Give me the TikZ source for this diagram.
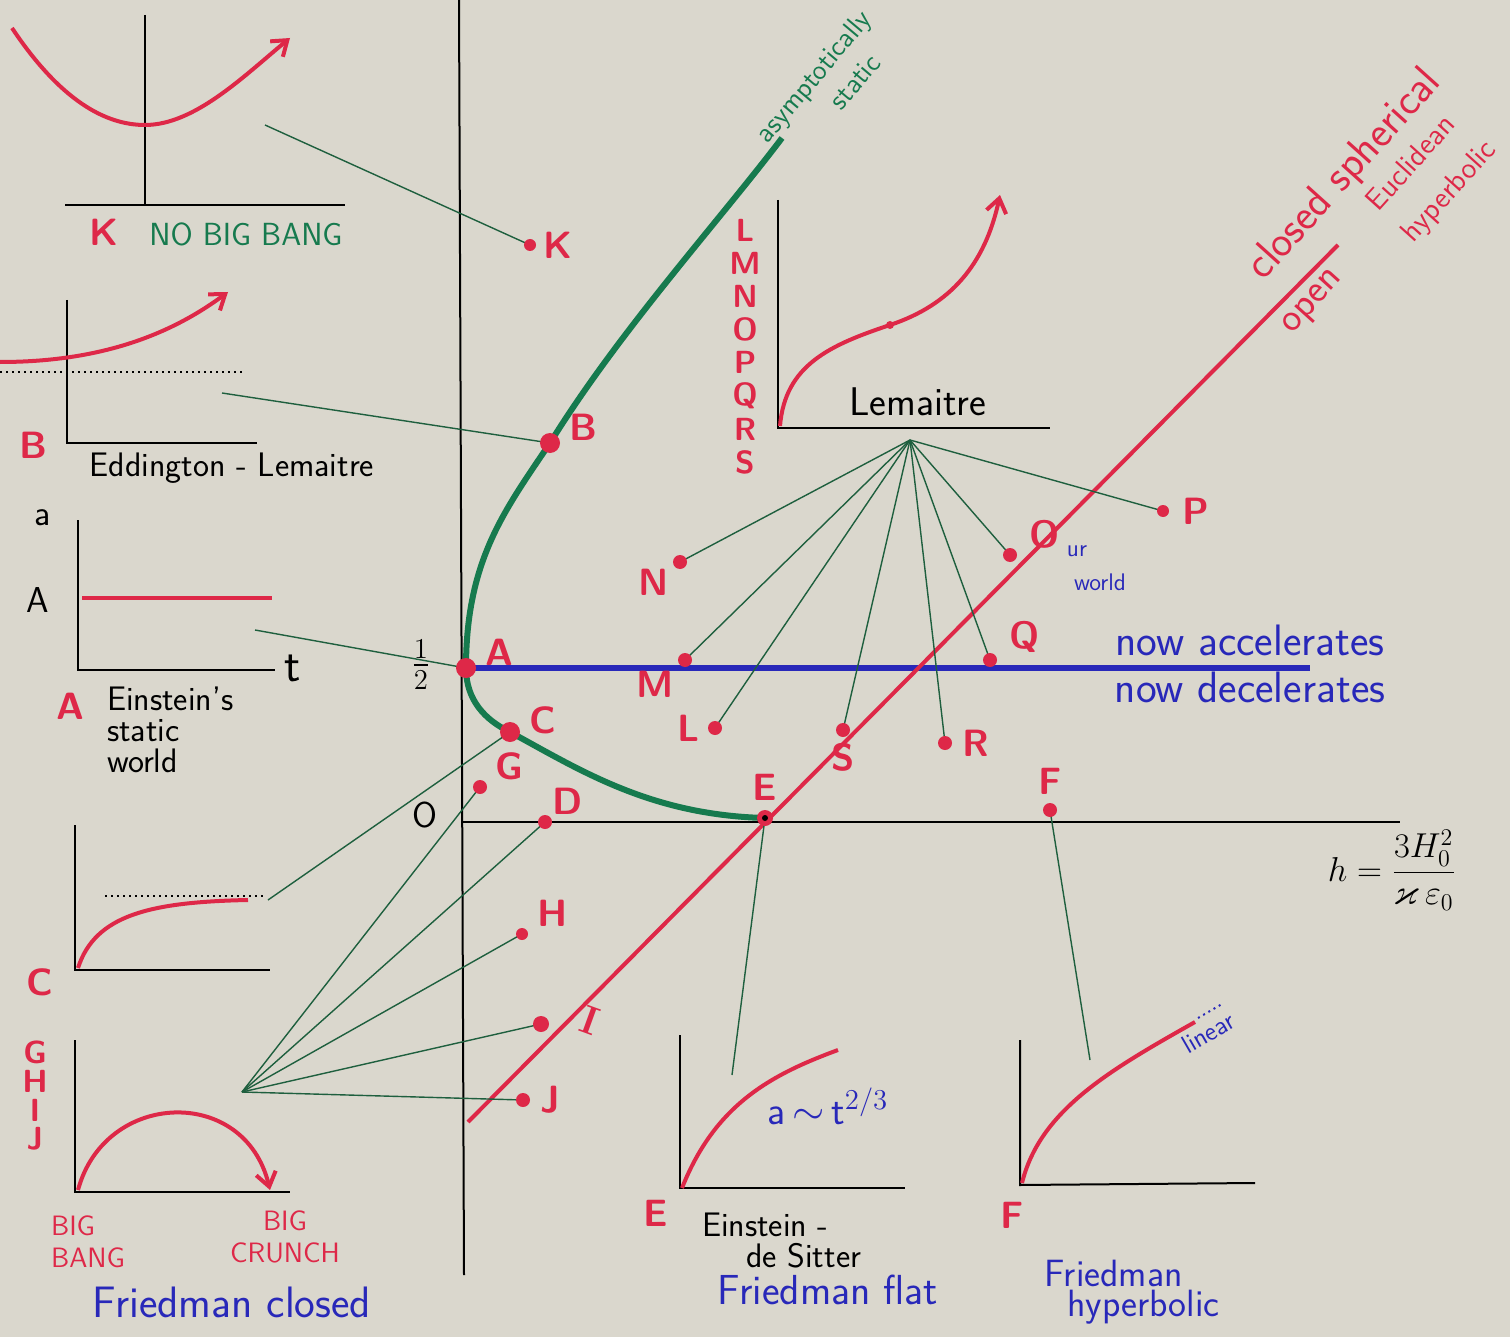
\documentclass[tikz,border=0pt]{standalone}
\usepackage{amsmath,amssymb}
\usetikzlibrary{arrows.meta,positioning}
\definecolor{paper}{RGB}{218,215,205}
\definecolor{penred}{RGB}{222,40,72}
\definecolor{pengreen}{RGB}{22,122,78}
\definecolor{penblue}{RGB}{40,40,185}
\definecolor{linkgreen}{RGB}{30,95,62}
\tikzset{
  axis/.style={black, line width=1pt},
  curve/.style={penred, line width=2pt},
  barb/.style={-{Straight Barb[length=7pt,width=10pt]}},
  link/.style={linkgreen, line width=0.7pt},
  ptlabel/.style={text=penred, font=\sffamily\bfseries\fontsize{19}{20}\selectfont},
  stacklabel/.style={text=penred, font=\sffamily\bfseries\fontsize{16}{17}\selectfont},
  slanted/.style={text=penred, font=\sffamily\fontsize{#1}{#1}\selectfont, rotate=48},
  notes/.style={font=\sffamily\fontsize{17}{15.5}\selectfont},
  bluenote/.style={text=penblue, font=\sffamily\fontsize{22}{24}\selectfont},
  greennote/.style={text=pengreen, font=\sffamily\fontsize{16}{19}\selectfont}
}
\begin{document}
\begin{tikzpicture}[x=0.5pt,y=-0.5pt]
\useasboundingbox (0,0) rectangle (1510,1337);
\fill[paper] (0,0) rectangle (1510,1337);

% points of the diagram
\coordinate (K) at (530,245);
\coordinate (B) at (550,443);
\coordinate (A) at (466,668);
\coordinate (C) at (510,732);
\coordinate (G) at (480,787);
\coordinate (D) at (545,822);
\coordinate (E) at (765,818);
\coordinate (F) at (1050,810);
\coordinate (H) at (522,934);
\coordinate (I) at (541,1024);
\coordinate (J) at (523,1100);
\coordinate (M) at (685,660);
\coordinate (L) at (715,728);
\coordinate (N) at (680,562);
\coordinate (S) at (843,730);
\coordinate (R) at (945,743);
\coordinate (Q) at (990,660);
\coordinate (O) at (1010,555);
\coordinate (P) at (1163,511);
% panel corners
\coordinate (Kpanel) at (265,125);
\coordinate (Bpanel) at (222,393);
\coordinate (Apanel) at (255,630);
\coordinate (Cpanel) at (268,900);
\coordinate (GHIJpanel) at (242,1092);
\coordinate (Epanel) at (732,1075);
\coordinate (Fpanel) at (1090,1060);
\coordinate (Lpanel) at (910,440);
\coordinate (open0) at (468,1122);
\coordinate (open1) at (1338,245);

% main axes
\draw[axis] (459,0) -- (464,1275);
\draw[axis] (462,822) -- (1400,822);
\node (zero) at (425,815) {\fontsize{18}{18}\selectfont\sffamily O};
\node (half) at (421,665) {\fontsize{20}{20}\selectfont$\frac{1}{2}$};
\node (hdef) at (1392,870) {\fontsize{18}{18}\selectfont$h=\dfrac{3H_0^2}{\varkappa\,\varepsilon_0}$};

% blue line
\draw[penblue, line width=3pt] (470,668) -- (1310,668);
\node[bluenote] (accel) at (1250,640) {now accelerates};
\node[bluenote] (decel) at (1250,687) {now decelerates};

% open / closed
\draw[penred, line width=2pt] (open0) -- (open1);
\node[slanted=22] (closed) at (1345,175) {closed spherical};
\node[slanted=20] (open) at (1314,303) {open};
\node[slanted=15] (eucl) at (1410,162) {Euclidean};
\node[slanted=15] (hyper) at (1450,192) {hyperbolic};

% critical curve
\draw[pengreen, line width=3pt] (782,138) .. controls (720,220) and (620,330) .. (B)
  .. controls (505,510) and (466,560) .. (A)
  .. controls (466,700) and (485,720) .. (C)
  .. controls (580,770) and (650,815) .. (E);
\node[greennote, font=\sffamily\fontsize{14}{15}\selectfont, rotate=50] (asym) at (815,78) {asymptotically};
\node[greennote, font=\sffamily\fontsize{14}{15}\selectfont, rotate=50] (static) at (855,82) {static};

% connectors
\draw[link] (Kpanel) -- (K);
\draw[link] (Bpanel) -- (B);
\draw[link] (Apanel) -- (A);
\draw[link] (Cpanel) -- (C);
\draw[link] (Epanel) -- (E);
\draw[link] (Fpanel) -- (F);
\foreach \p in {G,D,H,I,J} \draw[link] (GHIJpanel) -- (\p);
\foreach \p in {N,M,L,S,R,Q,O,P} \draw[link] (Lpanel) -- (\p);

% dots
\fill[penred] (K) circle(3pt) node[ptlabel, right=3pt] (Klbl) {K};
\fill[penred] (B) circle(5pt) node[ptlabel, right=6pt, yshift=8pt] (Blbl) {B};
\fill[penred] (A) circle(5pt) node[ptlabel, right=6pt, yshift=8pt] (Albl) {A};
\fill[penred] (C) circle(5pt) node[ptlabel, right=6pt, yshift=6pt] (Clbl) {C};
\fill[penred] (G) circle(3.5pt) node[ptlabel, above right=0pt and 4pt] (Glbl) {G};
\fill[penred] (D) circle(3.5pt) node[ptlabel, above right=0pt and 0pt] (Dlbl) {D};
\fill[penred] (E) circle(4pt) node[ptlabel, above=5pt] (Elbl) {E};
\fill[black] (E) circle(1.5pt);
\fill[penred] (F) circle(3.5pt) node[ptlabel, above=4pt] (Flbl) {F};
\fill[penred] (H) circle(3pt) node[ptlabel, above right=0pt and 4pt] (Hlbl) {H};
\fill[penred] (I) circle(4pt);
\node[text=penred, font=\rmfamily\bfseries\fontsize{20}{20}\selectfont, rotate=-20] (Ilbl) at (590,1020) {I};
\fill[penred] (J) circle(3.5pt) node[ptlabel, right=5pt] (Jlbl) {J};
\fill[penred] (M) circle(3.5pt) node[ptlabel, below left=2pt and 2pt] (Mlbl) {M};
\fill[penred] (L) circle(3.5pt) node[ptlabel, left=4pt] (Llbl) {L};
\fill[penred] (N) circle(3.5pt) node[ptlabel, below left=0pt and 2pt] (Nlbl) {N};
\fill[penred] (S) circle(3.5pt) node[ptlabel, below=3pt] (Slbl) {S};
\fill[penred] (R) circle(3.5pt) node[ptlabel, right=5pt] (Rlbl) {R};
\fill[penred] (Q) circle(3.5pt) node[ptlabel, above right=0pt and 6pt] (Qlbl) {Q};
\fill[penred] (O) circle(3.5pt) node[ptlabel, above right=0pt and 6pt] (Olbl) {O};
\fill[penred] (P) circle(3pt) node[ptlabel, right=6pt] (Plbl) {P};
\node[text=penblue, font=\sffamily\fontsize{12}{12}\selectfont] (ur) at (1077,551) {ur};
\node[text=penblue, font=\sffamily\fontsize{12}{12}\selectfont] (world) at (1100,582) {world};

% panel K: no big bang
\draw[axis] (145,15) -- (145,205);
\draw[axis] (65,205) -- (345,205);
\draw[curve, barb] (12,28) .. controls (60,100) and (105,125) .. (145,125)
  .. controls (195,125) and (245,75) .. (290,38);
\node[ptlabel] (Kname) at (104,232) {K};
\node[greennote] (nobang) at (246,234) {NO BIG BANG};

% panel B: Eddington-Lemaitre
\draw[axis] (67,300) -- (67,443) -- (257,443);
\draw[dotted, line width=1pt] (0,372) -- (245,372);
\draw[curve, barb] (0,362) .. controls (100,362) and (170,335) .. (228,292);
\node[ptlabel] (Bname) at (33,445) {B};
\node[notes] (eddl) at (232,468) {Eddington - Lemaitre};

% panel A: Einstein static
\draw[axis] (78,520) -- (78,670) -- (275,670);
\draw[curve] (82,598) -- (272,598);
\node (tlbl) at (293,668) {\fontsize{24}{24}\selectfont\sffamily t};
\node (albl) at (43,518) {\fontsize{18}{18}\selectfont\sffamily a};
\node (Aval) at (38,600) {\fontsize{18}{18}\selectfont\sffamily A};
\node[ptlabel] (Aname) at (70,706) {A};
\node[notes, align=left, anchor=north west] (einst) at (100,680) {Einstein's\\static\\world};

% panel C
\draw[axis] (75,825) -- (75,970) -- (270,970);
\draw[dotted, line width=1pt] (105,896) -- (265,896);
\draw[curve] (78,968) .. controls (95,915) and (150,902) .. (248,900);
\node[ptlabel] (Cname) at (40,982) {C};

% panel GHIJ: Friedman closed
\draw[axis] (75,1040) -- (75,1192) -- (290,1192);
\draw[curve, barb] (78,1190) .. controls (105,1090) and (245,1085) .. (270,1190);
\foreach \ltr [count=\i] in {G,H,I,J}
  \node[stacklabel] (gh\i) at (35,{1052+29*(\i-1)}) {\ltr};
\node[text=penred, font=\sffamily\fontsize{14}{16}\selectfont, align=left] (bang) at (88,1242) {BIG\\BANG};
\node[text=penred, font=\sffamily\fontsize{14}{16}\selectfont, align=center] (crunch) at (285,1237) {BIG\\CRUNCH};
\node[bluenote] (fclosed) at (232,1302) {Friedman closed};

% panel E: Einstein - de Sitter
\draw[axis] (680,1035) -- (680,1188) -- (905,1188);
\draw[curve] (682,1188) .. controls (715,1105) and (770,1075) .. (838,1050);
\node[text=penblue, font=\sffamily\fontsize{20}{20}\selectfont] (power) at (828,1106) {a\,$\sim$\,t$^{2/3}$};
\node[ptlabel] (Ename) at (656,1213) {E};
\node[notes, align=left, anchor=north west] (eds) at (695,1206) {Einstein -\\\hspace*{1.3em}de Sitter};
\node[bluenote, font=\sffamily\fontsize{21}{22}\selectfont] (fflat) at (828,1290) {Friedman flat};

% panel F: Friedman hyperbolic
\draw[axis] (1020,1040) -- (1020,1185) -- (1255,1183);
\draw[curve] (1022,1183) .. controls (1040,1110) and (1110,1070) .. (1195,1022);
\draw[penblue, dotted, line width=1pt] (1198,1018) -- (1222,1004);
\node[text=penblue, font=\sffamily\fontsize{13}{13}\selectfont, rotate=30] (linear) at (1208,1033) {linear};
\node[ptlabel] (Fname) at (1012,1215) {F};
\node[bluenote, font=\sffamily\fontsize{19}{15}\selectfont, align=left] (fhyp) at (1132,1292) {Friedman\\\hspace*{0.6em}hyperbolic};

% panel LMNOPQRS: Lemaitre
\draw[axis] (778,200) -- (778,428) -- (1050,428);
\draw[curve, barb] (780,426) .. controls (785,365) and (830,345) .. (890,325)
  .. controls (950,305) and (985,265) .. (1000,195);
\fill[penred] (890,325) circle(2pt);
\node[font=\sffamily\fontsize{20}{20}\selectfont] (lem) at (918,402) {Lemaitre};
\foreach \ltr [count=\i] in {L,M,N,O,P,Q,R,S}
  \node[stacklabel] (lm\i) at (745,{230+33.2*(\i-1)}) {\ltr};
\end{tikzpicture}
\end{document}
